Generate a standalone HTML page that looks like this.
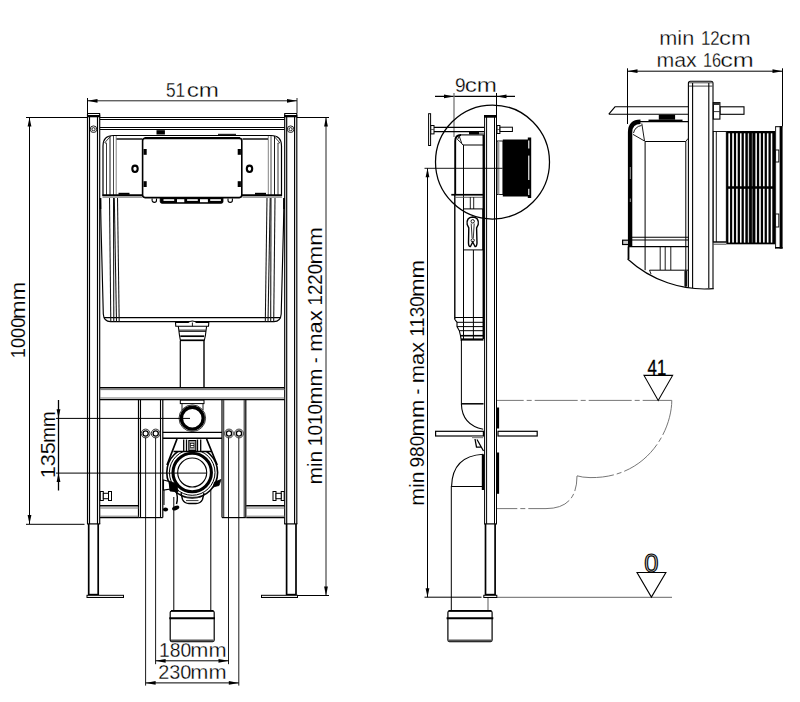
<!DOCTYPE html>
<html lang="en">
<head>
<meta charset="utf-8">
<title>Installation dimensions</title>
<style>
html,body{margin:0;padding:0;background:#fff;}
body{width:800px;height:702px;overflow:hidden;}
svg{display:block;}
svg text{font-family:"Liberation Sans",sans-serif;fill:#000;}
</style>
</head>
<body>
<svg width="800" height="702" viewBox="0 0 800 702" role="img" aria-label="Installation dimensions drawing">
<rect x="0" y="0" width="800" height="702" fill="#ffffff"/>
<g id="front">
<line x1="87.5" y1="100.8" x2="297" y2="100.8" stroke="#222" stroke-width="1"/>
<line x1="87.5" y1="98" x2="87.5" y2="113" stroke="#000" stroke-width="1"/>
<line x1="297" y1="98" x2="297" y2="113" stroke="#222" stroke-width="1"/>
<polygon points="87.5,100.8 97.5,98.9 97.5,102.7" fill="#000"/>
<polygon points="297,100.8 287,98.9 287,102.7" fill="#000"/>
<text y="96.75" font-size="20" stroke="#fff" stroke-width="0.3"><tspan x="166.0" textLength="19.2" lengthAdjust="spacingAndGlyphs">51</tspan><tspan x="186.75" textLength="32.26" lengthAdjust="spacingAndGlyphs">cm</tspan></text>
<line x1="29.5" y1="117.5" x2="29.5" y2="524" stroke="#000" stroke-width="1"/>
<line x1="26" y1="117.5" x2="87" y2="117.5" stroke="#000" stroke-width="1"/>
<line x1="26" y1="524.3" x2="84.5" y2="524.3" stroke="#000" stroke-width="1"/>
<polygon points="29.5,117.5 27.6,126.5 31.4,126.5" fill="#000"/>
<polygon points="29.5,524 27.6,515 31.4,515" fill="#000"/>
<text y="358.15" font-size="20.6" stroke="#fff" stroke-width="0.12" transform="rotate(-90 25.3 358.15)"><tspan x="25.3" textLength="40.43" lengthAdjust="spacingAndGlyphs">1000</tspan><tspan x="64.15" textLength="37.65" lengthAdjust="spacingAndGlyphs">mm</tspan></text>
<line x1="326" y1="117.5" x2="326" y2="595.5" stroke="#222" stroke-width="1"/>
<line x1="297" y1="117.5" x2="329" y2="117.5" stroke="#000" stroke-width="1"/>
<line x1="298" y1="595.5" x2="329" y2="595.5" stroke="#000" stroke-width="1"/>
<polygon points="326,117.5 324.1,126.5 327.9,126.5" fill="#000"/>
<polygon points="326,595.5 324.1,586.5 327.9,586.5" fill="#000"/>
<text y="484.55" font-size="20.6" stroke="#fff" stroke-width="0.12" transform="rotate(-90 322.4 484.55)"><tspan x="322.4" textLength="33.55" lengthAdjust="spacingAndGlyphs">min</tspan> <tspan x="360.8" textLength="42.23" lengthAdjust="spacingAndGlyphs">1010</tspan><tspan x="402.45" textLength="36.03" lengthAdjust="spacingAndGlyphs">mm</tspan> <tspan x="444.05" textLength="5.48" lengthAdjust="spacingAndGlyphs">-</tspan> <tspan x="455.3" textLength="41.29" lengthAdjust="spacingAndGlyphs">max</tspan> <tspan x="501.45" textLength="41.58" lengthAdjust="spacingAndGlyphs">1220</tspan><tspan x="542.45" textLength="37.32" lengthAdjust="spacingAndGlyphs">mm</tspan></text>
<line x1="87.5" y1="114" x2="87.5" y2="524" stroke="#000" stroke-width="1.15"/>
<line x1="89.5" y1="117" x2="89.5" y2="524" stroke="#000" stroke-width="1.15"/>
<line x1="97.5" y1="117" x2="97.5" y2="524" stroke="#000" stroke-width="1.15"/>
<line x1="99.7" y1="114" x2="99.7" y2="524" stroke="#000" stroke-width="1.15"/>
<line x1="87.0" y1="113.5" x2="100.2" y2="113.5" stroke="#000" stroke-width="1"/>
<rect x="87.0" y="115" width="13.200000000000003" height="2.3" fill="#000"/>
<line x1="87.0" y1="523.9" x2="100.2" y2="523.9" stroke="#000" stroke-width="1.2"/>
<line x1="284.7" y1="114" x2="284.7" y2="524" stroke="#000" stroke-width="1.15"/>
<line x1="286.7" y1="117" x2="286.7" y2="524" stroke="#000" stroke-width="1.15"/>
<line x1="294.6" y1="117" x2="294.6" y2="524" stroke="#000" stroke-width="1.15"/>
<line x1="296.8" y1="114" x2="296.8" y2="524" stroke="#000" stroke-width="1.15"/>
<line x1="284.2" y1="113.5" x2="297.3" y2="113.5" stroke="#000" stroke-width="1"/>
<rect x="284.2" y="115" width="13.100000000000023" height="2.3" fill="#000"/>
<line x1="284.2" y1="523.9" x2="297.3" y2="523.9" stroke="#000" stroke-width="1.2"/>
<line x1="88.7" y1="524" x2="88.7" y2="595" stroke="#000" stroke-width="1.7"/>
<line x1="98.2" y1="524" x2="98.2" y2="595" stroke="#000" stroke-width="1.7"/>
<line x1="88.7" y1="594.4" x2="98.2" y2="594.4" stroke="#000" stroke-width="1.2"/>
<line x1="286.6" y1="524" x2="286.6" y2="595" stroke="#000" stroke-width="1.7"/>
<line x1="296" y1="524" x2="296" y2="595" stroke="#000" stroke-width="1.7"/>
<line x1="286.6" y1="594.4" x2="296" y2="594.4" stroke="#000" stroke-width="1.2"/>
<rect x="87" y="595.3" width="36.5" height="2.2" fill="#eee" stroke="#000" stroke-width="1"/>
<rect x="261.5" y="595.3" width="36" height="2.2" fill="#eee" stroke="#000" stroke-width="1"/>
<circle cx="93.5" cy="129.2" r="3.3" fill="none" stroke="#222" stroke-width="1"/>
<circle cx="93.5" cy="129.2" r="1.6" fill="none" stroke="#222" stroke-width="1"/>
<circle cx="290.6" cy="129.2" r="3.3" fill="none" stroke="#222" stroke-width="1"/>
<circle cx="290.6" cy="129.2" r="1.6" fill="none" stroke="#222" stroke-width="1"/>
<line x1="100" y1="117.5" x2="284.5" y2="117.5" stroke="#000" stroke-width="1"/>
<line x1="100" y1="119.5" x2="284.5" y2="119.5" stroke="#000" stroke-width="1"/>
<line x1="100" y1="127.5" x2="284.5" y2="127.5" stroke="#000" stroke-width="1"/>
<line x1="100" y1="129.5" x2="284.5" y2="129.5" stroke="#000" stroke-width="1"/>
<rect x="156.5" y="130.2" width="8.4" height="4.3" fill="#000" stroke="#000" stroke-width="0"/>
<line x1="100" y1="387.7" x2="284.5" y2="387.7" stroke="#000" stroke-width="1.5"/>
<line x1="100" y1="389.6" x2="284.5" y2="389.6" stroke="#777" stroke-width="1"/>
<line x1="100" y1="398" x2="284.5" y2="398" stroke="#777" stroke-width="1"/>
<line x1="100" y1="399.6" x2="284.5" y2="399.6" stroke="#000" stroke-width="1.2"/>
<path d="M103,196 L103,146 Q103,135.5 113.5,135.5 L271,135.5 Q281.5,135.5 281.5,146 L281.5,196" fill="none" stroke="#000" stroke-width="1.2"/>
<path d="M104.5,143 L110.5,136.2 M106.5,143.5 L106.5,196 M105,143 L107,143.3" fill="none" stroke="#222" stroke-width="0.9"/>
<path d="M280,143 L274,136.2 M278,143.5 L278,196 M279.5,143 L277.5,143.3" fill="none" stroke="#222" stroke-width="0.9"/>
<line x1="110" y1="136" x2="110" y2="196" stroke="#000" stroke-width="0.9"/>
<line x1="274.5" y1="136" x2="274.5" y2="196" stroke="#000" stroke-width="0.9"/>
<line x1="113.5" y1="136" x2="113.5" y2="196" stroke="#333" stroke-width="0.9"/>
<line x1="271.0" y1="136" x2="271.0" y2="196" stroke="#333" stroke-width="0.9"/>
<line x1="116.2" y1="136" x2="116.2" y2="196" stroke="#777" stroke-width="0.9"/>
<line x1="268.3" y1="136" x2="268.3" y2="196" stroke="#777" stroke-width="0.9"/>
<line x1="116.5" y1="139" x2="142" y2="139" stroke="#000" stroke-width="1.4"/>
<line x1="242.5" y1="139" x2="268" y2="139" stroke="#000" stroke-width="1.4"/>
<line x1="218" y1="134.4" x2="236" y2="134.4" stroke="#222" stroke-width="1.2"/>
<line x1="102.5" y1="195.2" x2="142.5" y2="195.2" stroke="#000" stroke-width="1.9"/>
<line x1="102.5" y1="197.2" x2="142" y2="197.2" stroke="#666" stroke-width="0.9"/>
<line x1="242" y1="195.2" x2="282" y2="195.2" stroke="#000" stroke-width="1.9"/>
<line x1="242.5" y1="197.2" x2="282" y2="197.2" stroke="#666" stroke-width="0.9"/>
<rect x="118.5" y="192.8" width="11" height="2" fill="#000" stroke="#000" stroke-width="0"/>
<rect x="255" y="192.8" width="11" height="2" fill="#000" stroke="#000" stroke-width="0"/>
<rect x="142.6" y="138.3" width="99.2" height="59.3" rx="2.5" fill="#fff" stroke="#000" stroke-width="1.6"/>
<line x1="144.5" y1="138.2" x2="240" y2="138.2" stroke="#000" stroke-width="2.2"/>
<rect x="143.5" y="149" width="3.2" height="5.8" fill="#000" stroke="#000" stroke-width="0"/>
<rect x="237.7" y="149" width="3.2" height="5.8" fill="#000" stroke="#000" stroke-width="0"/>
<rect x="143.5" y="181.2" width="3.2" height="5.8" fill="#000" stroke="#000" stroke-width="0"/>
<rect x="237.7" y="181.2" width="3.2" height="5.8" fill="#000" stroke="#000" stroke-width="0"/>
<ellipse cx="135" cy="168.8" rx="2.7" ry="3.2" fill="#fff" stroke="#000" stroke-width="2.1"/>
<ellipse cx="249.5" cy="168.8" rx="2.7" ry="3.2" fill="#fff" stroke="#000" stroke-width="2.1"/>
<path d="M160.1,198 L160.1,201.4 Q160.1,203.4 162.1,203.4 L221.1,203.4 Q223.1,203.4 223.1,201.4 L223.1,198 Z" fill="#000" stroke="#000" stroke-width="0.6"/>
<rect x="163.5" y="199.2" width="10.7" height="1.7" fill="#fff"/>
<rect x="177" y="199.2" width="7.3" height="3" fill="#fff"/>
<rect x="187.1" y="199.2" width="10.7" height="1.7" fill="#fff"/>
<rect x="200" y="199.2" width="7.9" height="3" fill="#fff"/>
<rect x="210.2" y="199.2" width="10.7" height="1.7" fill="#fff"/>
<path d="M152.1,198.5 L152.1,200.2 A2.2,2.2 0 0 0 156.5,200.2 L156.5,198.5" fill="none" stroke="#000" stroke-width="1.1"/>
<path d="M228.0,198.5 L228.0,200.2 A2.2,2.2 0 0 0 232.4,200.2 L232.4,198.5" fill="none" stroke="#000" stroke-width="1.1"/>
<path d="M100.5,198 L101,225 L103.3,314 Q103.8,321.6 110.5,321.6 L274,321.6 Q280.7,321.6 281.2,314 L283.5,225 L284,198" fill="none" stroke="#000" stroke-width="1.15"/>
<line x1="100.5" y1="198" x2="100.5" y2="209" stroke="#000" stroke-width="1.6"/>
<line x1="284" y1="198" x2="284" y2="209" stroke="#000" stroke-width="1.6"/>
<line x1="104" y1="317.6" x2="280.5" y2="317.6" stroke="#000" stroke-width="1.1"/>
<line x1="109.5" y1="198" x2="110.8" y2="322" stroke="#111" stroke-width="1.05"/>
<line x1="275.0" y1="198" x2="273.7" y2="322" stroke="#111" stroke-width="1.05"/>
<line x1="113.5" y1="198" x2="113.8" y2="322" stroke="#111" stroke-width="1.05"/>
<line x1="271.0" y1="198" x2="270.7" y2="322" stroke="#111" stroke-width="1.05"/>
<line x1="114.3" y1="198" x2="116.5" y2="322" stroke="#111" stroke-width="1.05"/>
<line x1="270.2" y1="198" x2="268.0" y2="322" stroke="#111" stroke-width="1.05"/>
<line x1="117.5" y1="198" x2="119.2" y2="322" stroke="#111" stroke-width="1.05"/>
<line x1="267.0" y1="198" x2="265.3" y2="322" stroke="#111" stroke-width="1.05"/>
<path d="M175.5,322.5 L188,322.5 Q190,321 192.3,321 Q194.6,321 196.6,322.5 L208.8,322.5 L208.5,326.3 L175.8,326.3 Z" fill="#fff" stroke="#000" stroke-width="1.1"/>
<line x1="192.4" y1="322.5" x2="192.4" y2="326.3" stroke="#000" stroke-width="0.9"/>
<path d="M178.3,326.3 L178.8,330 L179.5,335.5 L180.5,341 M206.6,326.3 L206.1,330 L205.4,335.5 L204.2,341" fill="none" stroke="#000" stroke-width="1.1"/>
<line x1="178.8" y1="330" x2="206.1" y2="330" stroke="#444" stroke-width="0.9"/>
<line x1="179" y1="331.2" x2="206" y2="331.2" stroke="#000" stroke-width="1.2"/>
<line x1="180.3" y1="336.2" x2="204.2" y2="336.2" stroke="#000" stroke-width="1.7"/>
<line x1="180.3" y1="340.3" x2="204.2" y2="340.3" stroke="#000" stroke-width="1.7"/>
<line x1="180.3" y1="341" x2="180.3" y2="387.5" stroke="#000" stroke-width="1.2"/>
<line x1="204" y1="341" x2="204" y2="387.5" stroke="#000" stroke-width="1.4"/>
<line x1="138.5" y1="400" x2="138.5" y2="517.6" stroke="#000" stroke-width="1.2"/>
<line x1="140.5" y1="400" x2="140.5" y2="517.6" stroke="#000" stroke-width="1.1"/>
<line x1="160.5" y1="400" x2="160.5" y2="517.6" stroke="#000" stroke-width="1.1"/>
<line x1="162.8" y1="400" x2="162.8" y2="517.6" stroke="#000" stroke-width="1.2"/>
<line x1="138.5" y1="517.6" x2="162.8" y2="517.6" stroke="#000" stroke-width="1.2"/>
<line x1="222" y1="400" x2="222" y2="517.6" stroke="#000" stroke-width="1.2"/>
<line x1="223.7" y1="400" x2="223.7" y2="517.6" stroke="#333" stroke-width="1.1"/>
<line x1="244.2" y1="400" x2="244.2" y2="517.6" stroke="#333" stroke-width="1.1"/>
<line x1="245.8" y1="400" x2="245.8" y2="517.6" stroke="#000" stroke-width="1.2"/>
<line x1="222" y1="517.6" x2="245.8" y2="517.6" stroke="#000" stroke-width="1.2"/>
<circle cx="145.6" cy="433.5" r="4.4" fill="none" stroke="#222" stroke-width="0.9"/>
<circle cx="145.6" cy="433.5" r="2.6" fill="none" stroke="#000" stroke-width="1.3"/>
<circle cx="155.7" cy="433.5" r="4.4" fill="none" stroke="#222" stroke-width="0.9"/>
<circle cx="155.7" cy="433.5" r="2.6" fill="none" stroke="#000" stroke-width="1.3"/>
<circle cx="229" cy="433.5" r="4.4" fill="none" stroke="#222" stroke-width="0.9"/>
<circle cx="229" cy="433.5" r="2.6" fill="none" stroke="#000" stroke-width="1.3"/>
<circle cx="239" cy="433.5" r="4.4" fill="none" stroke="#222" stroke-width="0.9"/>
<circle cx="239" cy="433.5" r="2.6" fill="none" stroke="#000" stroke-width="1.3"/>
<line x1="100" y1="505.8" x2="138.5" y2="505.8" stroke="#000" stroke-width="1.5"/>
<line x1="100" y1="508" x2="138.5" y2="508" stroke="#777" stroke-width="1"/>
<line x1="100" y1="516.2" x2="138.5" y2="516.2" stroke="#777" stroke-width="1"/>
<line x1="100" y1="517.7" x2="138.5" y2="517.7" stroke="#000" stroke-width="1.2"/>
<line x1="246.2" y1="505.8" x2="284.5" y2="505.8" stroke="#000" stroke-width="1.5"/>
<line x1="246.2" y1="508" x2="284.5" y2="508" stroke="#777" stroke-width="1"/>
<line x1="246.2" y1="516.2" x2="284.5" y2="516.2" stroke="#777" stroke-width="1"/>
<line x1="246.2" y1="517.7" x2="284.5" y2="517.7" stroke="#000" stroke-width="1.2"/>
<rect x="100.3" y="491.5" width="3" height="9" fill="#fff" stroke="#000" stroke-width="1"/>
<rect x="108.5" y="491.5" width="3" height="9" fill="#fff" stroke="#000" stroke-width="1"/>
<rect x="103.3" y="493.3" width="5.2" height="5.4" fill="#fff" stroke="#000" stroke-width="1"/>
<rect x="281.2" y="491.5" width="3" height="9" fill="#fff" stroke="#000" stroke-width="1"/>
<rect x="273.0" y="491.5" width="3" height="9" fill="#fff" stroke="#000" stroke-width="1"/>
<rect x="276.0" y="493.3" width="5.2" height="5.4" fill="#fff" stroke="#000" stroke-width="1"/>
<rect x="180.3" y="400.2" width="23.7" height="3.4" fill="#fff" stroke="#000" stroke-width="1"/>
<line x1="182" y1="403.6" x2="182" y2="410" stroke="#000" stroke-width="0.9"/>
<line x1="203" y1="403.6" x2="203" y2="410" stroke="#000" stroke-width="0.9"/>
<circle cx="192.3" cy="418.2" r="13.3" fill="none" stroke="#222" stroke-width="0.9"/>
<circle cx="192.3" cy="418.2" r="10.9" fill="none" stroke="#000" stroke-width="3.4"/>
<line x1="162.8" y1="432.4" x2="222" y2="432.4" stroke="#000" stroke-width="1.1"/>
<line x1="162.8" y1="438.3" x2="222" y2="438.3" stroke="#000" stroke-width="1.6"/>
<path d="M177,439 L167,465 M206.6,439 L217.2,465" fill="none" stroke="#000" stroke-width="1.7"/>
<line x1="173.5" y1="451.6" x2="211" y2="451.6" stroke="#000" stroke-width="1.5"/>
<line x1="183.7" y1="439.5" x2="183.7" y2="451" stroke="#000" stroke-width="1.3"/>
<line x1="186.5" y1="439.5" x2="186.5" y2="451" stroke="#000" stroke-width="1.3"/>
<line x1="197.5" y1="439.5" x2="197.5" y2="451" stroke="#000" stroke-width="1.3"/>
<line x1="200.7" y1="439.5" x2="200.7" y2="451" stroke="#000" stroke-width="1.3"/>
<rect x="188.8" y="440.5" width="7" height="10" fill="#999" stroke="#000" stroke-width="1"/>
<rect x="190.5" y="443.5" width="3.4" height="4" fill="#fff" stroke="#000" stroke-width="0.6"/>
<line x1="190.5" y1="445.5" x2="194" y2="445.5" stroke="#000" stroke-width="0.8"/>
<clipPath id="oc"><rect x="160" y="452" width="66" height="60"/></clipPath>
<g clip-path="url(#oc)">
<circle cx="192.2" cy="472.5" r="25.4" fill="none" stroke="#000" stroke-width="1.6"/>
<circle cx="192.2" cy="472.5" r="22.8" fill="none" stroke="#000" stroke-width="1"/>
</g>
<circle cx="192.2" cy="472.5" r="19.2" fill="none" stroke="#000" stroke-width="3.1"/>
<circle cx="192.2" cy="472.5" r="14.5" fill="none" stroke="#000" stroke-width="1.1"/>
<path d="M181,493 L182.5,499.5 Q184.5,503.5 189,503.5 L196,503.5 Q200.5,503.5 202.5,499.5 L204,493" fill="none" stroke="#000" stroke-width="1.4"/>
<path d="M184.5,497.3 L200.5,497.3 M186,500.6 L198.5,500.6" fill="none" stroke="#333" stroke-width="1"/>
<path d="M163.5,480 L169,481.5 L170.5,489 L163.5,490 Z" fill="#fff" stroke="#000" stroke-width="1.1"/>
<path d="M169,481 L177,484 L178,492 L170,491 Z" fill="#000" stroke="#000" stroke-width="0.8"/>
<path d="M221,479.5 L214.5,482 L213,487 L219,485.5 Z" fill="#000" stroke="#000" stroke-width="0.8"/>
<path d="M176,491.5 Q178.5,497 176.5,504" fill="none" stroke="#000" stroke-width="1.4"/>
<path d="M164,490 L164,505" fill="none" stroke="#000" stroke-width="1"/>
<ellipse cx="165.5" cy="509.5" rx="2.6" ry="2" fill="#000"/>
<ellipse cx="175.7" cy="508" rx="3.8" ry="2.1" fill="#000" transform="rotate(-20 175.7 508)"/>
<line x1="56" y1="418.4" x2="190" y2="418.4" stroke="#000" stroke-width="1"/>
<line x1="56" y1="473.1" x2="206.5" y2="473.1" stroke="#000" stroke-width="1"/>
<line x1="58.5" y1="400" x2="58.5" y2="490.5" stroke="#000" stroke-width="1.3"/>
<polygon points="58.5,418.2 56.6,409.2 60.4,409.2" fill="#000"/>
<polygon points="58.5,473 56.6,482 60.4,482" fill="#000"/>
<text y="478.25" font-size="20.6" stroke="#fff" stroke-width="0.12" transform="rotate(-90 55.3 478.25)"><tspan x="55.3" textLength="36.2" lengthAdjust="spacingAndGlyphs">135</tspan><tspan x="90.85" textLength="31.24" lengthAdjust="spacingAndGlyphs">mm</tspan></text>
<line x1="173.8" y1="497" x2="173.8" y2="610" stroke="#000" stroke-width="1"/>
<line x1="210.8" y1="490" x2="210.8" y2="610" stroke="#000" stroke-width="1"/>
<line x1="145.6" y1="437.5" x2="145.6" y2="685.6" stroke="#000" stroke-width="0.9"/>
<line x1="155.6" y1="437.5" x2="155.6" y2="664.2" stroke="#000" stroke-width="0.9"/>
<line x1="228.5" y1="437.5" x2="228.5" y2="664.2" stroke="#000" stroke-width="0.9"/>
<line x1="238.8" y1="437.5" x2="238.8" y2="685.6" stroke="#000" stroke-width="0.9"/>
<rect x="170.2" y="611" width="44" height="30.6" rx="1.5" fill="none" stroke="#000" stroke-width="1.2"/>
<line x1="169.3" y1="618.3" x2="215" y2="618.3" stroke="#000" stroke-width="1.9"/>
<line x1="171" y1="610.9" x2="213.5" y2="610.9" stroke="#000" stroke-width="1.9"/>
<line x1="171" y1="640.5" x2="213.5" y2="640.5" stroke="#555" stroke-width="1.8"/>
<line x1="155.6" y1="660.8" x2="228.5" y2="660.8" stroke="#000" stroke-width="1"/>
<polygon points="155.6,660.8 165.6,658.9 165.6,662.7" fill="#000"/>
<polygon points="228.5,660.8 218.5,658.9 218.5,662.7" fill="#000"/>
<line x1="145.6" y1="682.9" x2="238.8" y2="682.9" stroke="#000" stroke-width="1"/>
<polygon points="145.6,682.9 155.6,681.0 155.6,684.8" fill="#000"/>
<polygon points="238.8,682.9 228.8,681.0 228.8,684.8" fill="#000"/>
<text y="656.5" font-size="20" stroke="#fff" stroke-width="0.3"><tspan x="159.0" textLength="32.21" lengthAdjust="spacingAndGlyphs">180</tspan><tspan x="190.25" textLength="36.27" lengthAdjust="spacingAndGlyphs">mm</tspan></text>
<text y="678.75" font-size="20" stroke="#fff" stroke-width="0.3"><tspan x="158.25" textLength="33.14" lengthAdjust="spacingAndGlyphs">230</tspan><tspan x="190.25" textLength="36.27" lengthAdjust="spacingAndGlyphs">mm</tspan></text>
</g>
<g id="side">
<line x1="435" y1="96.4" x2="515" y2="96.4" stroke="#000" stroke-width="1.1"/>
<polygon points="454,96.4 444,94.5 444,98.3" fill="#000"/>
<polygon points="496.5,96.4 506.5,94.5 506.5,98.3" fill="#000"/>
<line x1="454" y1="93" x2="454" y2="137" stroke="#777" stroke-width="1.3"/>
<line x1="496.5" y1="93" x2="496.5" y2="115" stroke="#000" stroke-width="1"/>
<text y="91.75" font-size="20" stroke="#fff" stroke-width="0.3"><tspan x="455.0" textLength="10.63" lengthAdjust="spacingAndGlyphs">9</tspan><tspan x="464.75" textLength="32.26" lengthAdjust="spacingAndGlyphs">cm</tspan></text>
<circle cx="492.5" cy="162" r="57" fill="none" stroke="#000" stroke-width="1.25"/>
<line x1="427.5" y1="168.3" x2="427.5" y2="597.2" stroke="#000" stroke-width="1"/>
<polygon points="427.5,168.3 425.6,177.3 429.4,177.3" fill="#000"/>
<polygon points="427.5,597.2 425.6,588.2 429.4,588.2" fill="#000"/>
<line x1="424.5" y1="597.2" x2="481.5" y2="597.2" stroke="#000" stroke-width="1"/>
<text y="505.65" font-size="20.6" stroke="#fff" stroke-width="0.12" transform="rotate(-90 424.3 505.65)"><tspan x="424.3" textLength="34.16" lengthAdjust="spacingAndGlyphs">min</tspan> <tspan x="462.45" textLength="31.84" lengthAdjust="spacingAndGlyphs">980</tspan><tspan x="493.5" textLength="36.77" lengthAdjust="spacingAndGlyphs">mm</tspan> <tspan x="535.25" textLength="6.23" lengthAdjust="spacingAndGlyphs">-</tspan> <tspan x="546.6" textLength="41.45" lengthAdjust="spacingAndGlyphs">max</tspan> <tspan x="593.15" textLength="40.69" lengthAdjust="spacingAndGlyphs">1130</tspan><tspan x="633.0" textLength="36.91" lengthAdjust="spacingAndGlyphs">mm</tspan></text>
<line x1="497" y1="597.3" x2="672" y2="597.3" stroke="#666" stroke-width="1"/>
<path d="M496.3,400.4 L671.8,400.4" fill="none" stroke="#666" stroke-width="0.9" stroke-dasharray="43 3 5 3" stroke-dashoffset="15.6"/>
<path d="M671.8,400.4 C671.5,432 646,478.5 590,477.6 Q582,477.4 577,475.8" fill="none" stroke="#666" stroke-width="0.9" stroke-dasharray="43 3 5 3" stroke-dashoffset="7"/>
<path d="M496.3,508.6 L546,508.6 Q577,508.6 577,476" fill="none" stroke="#666" stroke-width="0.9" stroke-dasharray="43 3 5 3" stroke-dashoffset="22"/>
<path d="M644,375.4 L672.6,375.4 L658.2,400.4 Z" fill="none" stroke="#000" stroke-width="1.1"/>
<text x="647.6" y="375" font-size="22.7" textLength="18.6" lengthAdjust="spacingAndGlyphs" stroke="#000" stroke-width="0.35">41</text>
<path d="M637,572.5 L665.9,572.5 L651.4,597.1 Z" fill="none" stroke="#000" stroke-width="1.1"/>
<text x="644.3" y="571.6" font-size="25.6" textLength="14.2" lengthAdjust="spacingAndGlyphs" stroke="#000" stroke-width="1.1" style="fill:#c8c8c8">0</text>
<rect x="428.6" y="113.7" width="2" height="31.8" fill="#fff" stroke="#000" stroke-width="1"/>
<rect x="430.8" y="125.5" width="3.2" height="8.4" fill="#fff" stroke="#000" stroke-width="1"/>
<line x1="430.8" y1="129.5" x2="434" y2="129.5" stroke="#444" stroke-width="0.8"/>
<line x1="434" y1="127.4" x2="484" y2="127.4" stroke="#000" stroke-width="1.1"/>
<line x1="434" y1="131.6" x2="484" y2="131.6" stroke="#000" stroke-width="1.1"/>
<rect x="497" y="125.5" width="2.9" height="8" fill="#fff" stroke="#000" stroke-width="1"/>
<line x1="497" y1="129.5" x2="500" y2="129.5" stroke="#444" stroke-width="0.8"/>
<rect x="500" y="127.2" width="12.4" height="4.3" fill="#fff" stroke="#000" stroke-width="1"/>
<rect x="469" y="132" width="10" height="2.4" fill="#000" stroke="#000" stroke-width="0"/>
<line x1="479" y1="133.4" x2="484" y2="133.4" stroke="#555" stroke-width="0.8"/>
<path d="M455.2,195 L455.2,141 Q455.2,135.2 461,135" fill="none" stroke="#000" stroke-width="1.9"/>
<line x1="460.5" y1="134.9" x2="484" y2="134.9" stroke="#000" stroke-width="1.1"/>
<path d="M457.5,139.5 L459.3,136.3 L461.8,143.5 Z" fill="none" stroke="#000" stroke-width="0.9"/>
<path d="M461.8,143.5 L463,145 L484,145" fill="none" stroke="#000" stroke-width="1"/>
<line x1="463.5" y1="145" x2="463.5" y2="339" stroke="#000" stroke-width="1"/>
<line x1="454.8" y1="195" x2="454.8" y2="319" stroke="#000" stroke-width="1.4"/>
<rect x="451.3" y="193.9" width="32" height="1.7" fill="#000" stroke="#000" stroke-width="0"/>
<line x1="454.5" y1="197.3" x2="483.5" y2="197.3" stroke="#555" stroke-width="0.9"/>
<line x1="470.3" y1="197" x2="470.3" y2="209" stroke="#222" stroke-width="1"/>
<line x1="473.7" y1="197" x2="473.7" y2="209" stroke="#222" stroke-width="1"/>
<rect x="463.5" y="208.9" width="19.3" height="41" fill="none" stroke="#000" stroke-width="1"/>
<path d="M467.2,224.5 Q466.2,217.3 472.6,217 Q479.2,217.3 478.2,224.5 L476.6,228 L477,243 Q476.7,247 475,246.5 L472.7,242 L470.5,246.5 Q468.6,247 468.5,243 L468.8,228 Z" fill="none" stroke="#000" stroke-width="1.4"/>
<circle cx="472.7" cy="221.3" r="1.7" fill="none" stroke="#000" stroke-width="0.9"/>
<circle cx="472.7" cy="240.3" r="1.6" fill="none" stroke="#000" stroke-width="0.9"/>
<path d="M471.2,223.5 L472.1,238 M474.2,223.5 L473.3,238" fill="none" stroke="#000" stroke-width="0.8"/>
<line x1="473.4" y1="250" x2="473.4" y2="339" stroke="#000" stroke-width="1"/>
<line x1="483.5" y1="135" x2="483.5" y2="339" stroke="#000" stroke-width="1.9"/>
<path d="M454.5,319 L457,322.3 L457,326.6 L459.3,330.7 L460.5,335.7 L461.3,341" fill="none" stroke="#000" stroke-width="1.1"/>
<line x1="455" y1="317.5" x2="483.5" y2="317.5" stroke="#000" stroke-width="1"/>
<line x1="457" y1="322.3" x2="483.5" y2="322.3" stroke="#000" stroke-width="1"/>
<line x1="457" y1="326.6" x2="483.5" y2="326.6" stroke="#000" stroke-width="1"/>
<line x1="459.3" y1="330.7" x2="483.5" y2="330.7" stroke="#000" stroke-width="1"/>
<line x1="460.5" y1="335.7" x2="483.5" y2="335.7" stroke="#000" stroke-width="1.6"/>
<line x1="461" y1="339.5" x2="483.5" y2="339.5" stroke="#000" stroke-width="2.2"/>
<line x1="461.4" y1="340" x2="461.4" y2="404" stroke="#000" stroke-width="1"/>
<line x1="461.4" y1="403.8" x2="483.5" y2="403.8" stroke="#000" stroke-width="1.5"/>
<path d="M461.4,404 Q462,425 483.2,429.2" fill="none" stroke="#000" stroke-width="1.1"/>
<rect x="484" y="115" width="13" height="2.7" fill="#000" stroke="#000" stroke-width="0"/>
<line x1="484.6" y1="116" x2="484.6" y2="523.9" stroke="#000" stroke-width="1"/>
<line x1="486.6" y1="116" x2="486.6" y2="523.9" stroke="#000" stroke-width="1"/>
<line x1="494.5" y1="116" x2="494.5" y2="523.9" stroke="#000" stroke-width="1"/>
<line x1="496.5" y1="116" x2="496.5" y2="523.9" stroke="#000" stroke-width="1"/>
<line x1="484" y1="523.9" x2="497" y2="523.9" stroke="#000" stroke-width="1.2"/>
<line x1="485.5" y1="524" x2="485.5" y2="595" stroke="#000" stroke-width="1.7"/>
<line x1="495.1" y1="524" x2="495.1" y2="595" stroke="#000" stroke-width="1.7"/>
<line x1="485.5" y1="594.4" x2="495.1" y2="594.4" stroke="#000" stroke-width="1.2"/>
<rect x="483.8" y="595.3" width="13" height="2.2" fill="#eee" stroke="#000" stroke-width="1"/>
<rect x="497" y="141" width="6" height="53.5" fill="#fff" stroke="#000" stroke-width="0.9"/>
<line x1="498.7" y1="141" x2="498.7" y2="194.5" stroke="#999" stroke-width="1.4"/>
<rect x="502.8" y="139.5" width="25.4" height="57" fill="#000" stroke="#000" stroke-width="0"/>
<rect x="527.8" y="137.5" width="3.4" height="60.5" fill="#000" stroke="#000" stroke-width="0"/>
<rect x="528.1" y="140.5" width="1.3" height="8" fill="#ddd" stroke="#000" stroke-width="0"/>
<rect x="528.1" y="155.6" width="1.3" height="24.4" fill="#ddd" stroke="#000" stroke-width="0"/>
<rect x="528.1" y="188.8" width="1.3" height="6.2" fill="#ddd" stroke="#000" stroke-width="0"/>
<line x1="424.5" y1="168.3" x2="502.6" y2="168.3" stroke="#000" stroke-width="0.9"/>
<rect x="496.5" y="407.5" width="2.6" height="21" fill="#000" stroke="#000" stroke-width="0"/>
<rect x="496.5" y="452.5" width="2.6" height="41.3" fill="#000" stroke="#000" stroke-width="0"/>
<rect x="481.8" y="454.3" width="2.4" height="35.7" fill="#000" stroke="#000" stroke-width="0"/>
<rect x="435.6" y="431.3" width="47.8" height="4.7" fill="#fff" stroke="#000" stroke-width="1.2"/>
<rect x="498" y="431.3" width="39.2" height="4.7" fill="#fff" stroke="#000" stroke-width="1.2"/>
<rect x="472" y="436.2" width="11.2" height="2" fill="#888" stroke="#000" stroke-width="0"/>
<path d="M475,439 L476.5,447.2 L481,447.2 M477,439.5 L483.5,451" fill="none" stroke="#000" stroke-width="1.3"/>
<path d="M483.2,454.3 Q452.5,456 451.6,486" fill="none" stroke="#000" stroke-width="1.1"/>
<line x1="451.3" y1="486.5" x2="483" y2="486.5" stroke="#000" stroke-width="1"/>
<line x1="451.3" y1="486" x2="451.3" y2="610" stroke="#000" stroke-width="1"/>
<line x1="488" y1="598" x2="488" y2="610" stroke="#777" stroke-width="1.2"/>
<rect x="447.9" y="611" width="44.2" height="30.6" rx="1.5" fill="none" stroke="#000" stroke-width="1.2"/>
<line x1="446.6" y1="618.3" x2="493.3" y2="618.3" stroke="#000" stroke-width="1.9"/>
<line x1="448.5" y1="610.9" x2="491.5" y2="610.9" stroke="#000" stroke-width="1.9"/>
<line x1="448.5" y1="640.5" x2="491.5" y2="640.5" stroke="#555" stroke-width="1.8"/>
</g>
<g id="detail">
<text y="44.5" font-size="19.4" stroke="#fff" stroke-width="0.3"><tspan x="659.25" textLength="34.95" lengthAdjust="spacingAndGlyphs">min</tspan> <tspan x="700.95" textLength="18.78" lengthAdjust="spacingAndGlyphs">12</tspan><tspan x="719.05" textLength="31.71" lengthAdjust="spacingAndGlyphs">cm</tspan></text>
<text y="66.5" font-size="19.4" stroke="#fff" stroke-width="0.3"><tspan x="656.5" textLength="40.27" lengthAdjust="spacingAndGlyphs">max</tspan> <tspan x="702.95" textLength="18.12" lengthAdjust="spacingAndGlyphs">16</tspan><tspan x="720.25" textLength="33.55" lengthAdjust="spacingAndGlyphs">cm</tspan></text>
<line x1="627.5" y1="71.2" x2="782.5" y2="71.2" stroke="#000" stroke-width="1"/>
<polygon points="627.5,71.2 637.5,69.3 637.5,73.1" fill="#000"/>
<polygon points="782.5,71.2 772.5,69.3 772.5,73.1" fill="#000"/>
<line x1="627.5" y1="68.3" x2="627.5" y2="124" stroke="#000" stroke-width="1"/>
<line x1="782.5" y1="68.3" x2="782.5" y2="126" stroke="#000" stroke-width="1"/>
<path d="M608.8,114.2 L615,106.8 L688,106.8 M608.8,114.2 L688,114.2" fill="none" stroke="#000" stroke-width="1.1"/>
<rect x="720" y="106.8" width="24" height="7.5" fill="#fff" stroke="#000" stroke-width="1.1"/>
<rect x="713.3" y="102.6" width="6.6" height="16.5" fill="#fff" stroke="#000" stroke-width="1.1"/>
<line x1="713.3" y1="111.6" x2="720" y2="111.6" stroke="#222" stroke-width="0.9"/>
<rect x="713.3" y="102.6" width="6.6" height="2.4" fill="#333" stroke="#000" stroke-width="0"/>
<rect x="658.8" y="114.7" width="16.3" height="5" fill="#000" stroke="#000" stroke-width="0"/>
<rect x="648.5" y="119.6" width="34" height="1.8" fill="#000" stroke="#000" stroke-width="0"/>
<path d="M630.1,246.5 L630.1,132 Q630.3,122 640.5,121.8" fill="none" stroke="#000" stroke-width="4.4"/>
<path d="M640,121.6 L688,121.6" fill="none" stroke="#000" stroke-width="1.2"/>
<path d="M633,134.4 L644.5,141 L641.8,123.5 M633.5,133 Q635,126.5 641.5,125.5" fill="none" stroke="#000" stroke-width="0.9"/>
<line x1="645.1" y1="141.3" x2="645.1" y2="270.2" stroke="#000" stroke-width="1"/>
<line x1="645.1" y1="141.5" x2="685.8" y2="141.5" stroke="#000" stroke-width="1.1"/>
<path d="M685.8,141.5 L688,138.5" fill="none" stroke="#000" stroke-width="0.9"/>
<line x1="685.8" y1="141.5" x2="685.8" y2="287" stroke="#000" stroke-width="1"/>
<line x1="630.3" y1="167" x2="630.3" y2="179" stroke="#999" stroke-width="1"/>
<line x1="630.3" y1="198.5" x2="630.3" y2="202" stroke="#999" stroke-width="1"/>
<path d="M688.4,287.5 L688.4,83.3 Q688.4,81.3 690.4,81.3 L711,81.3 Q713,81.3 713,83.3 L713,288" fill="none" stroke="#000" stroke-width="1.1"/>
<line x1="689" y1="82.8" x2="712.5" y2="82.8" stroke="#333" stroke-width="0.9"/>
<line x1="689" y1="86.1" x2="712.5" y2="86.1" stroke="#333" stroke-width="0.9"/>
<line x1="692.6" y1="83" x2="692.6" y2="288" stroke="#000" stroke-width="1.1"/>
<line x1="708.8" y1="83" x2="708.8" y2="288" stroke="#000" stroke-width="1.1"/>
<line x1="631.5" y1="237.3" x2="688.3" y2="237.3" stroke="#000" stroke-width="1.1"/>
<line x1="631.5" y1="240" x2="688.3" y2="240" stroke="#000" stroke-width="1.1"/>
<line x1="628" y1="246.6" x2="688.3" y2="246.6" stroke="#000" stroke-width="1.2"/>
<rect x="622.6" y="240.2" width="6" height="4.3" fill="#ccc" stroke="#000" stroke-width="1.2"/>
<line x1="628.5" y1="246.5" x2="628.5" y2="259" stroke="#000" stroke-width="1.8"/>
<path d="M627.6,259 A113.8,113.8 0 0 0 713.8,288.6" fill="none" stroke="#000" stroke-width="1.2"/>
<line x1="660.2" y1="247" x2="660.2" y2="270" stroke="#000" stroke-width="0.9"/>
<line x1="665.2" y1="247" x2="665.2" y2="270" stroke="#000" stroke-width="0.9"/>
<line x1="670.8" y1="247" x2="670.8" y2="270" stroke="#000" stroke-width="0.9"/>
<line x1="649.5" y1="270.2" x2="688" y2="270.2" stroke="#000" stroke-width="1"/>
<path d="M649.5,270.2 L651,274" fill="none" stroke="#000" stroke-width="0.9"/>
<rect x="684.4" y="271" width="2.8" height="15.4" fill="#111" stroke="#000" stroke-width="0"/>
<rect x="713.3" y="131.5" width="13" height="110.5" fill="#fff" stroke="#000" stroke-width="0.9"/>
<line x1="716.3" y1="131.5" x2="716.3" y2="242" stroke="#000" stroke-width="0.9"/>
<rect x="726.3" y="131" width="49" height="113.3" fill="#000" stroke="#000" stroke-width="0"/>
<line x1="729.2" y1="133.3" x2="729.2" y2="186.3" stroke="#fff" stroke-width="1.7"/>
<line x1="729.2" y1="188.8" x2="729.2" y2="242.6" stroke="#fff" stroke-width="1.7"/>
<line x1="733.0500000000001" y1="133.3" x2="733.0500000000001" y2="186.3" stroke="#fff" stroke-width="1.7"/>
<line x1="733.0500000000001" y1="188.8" x2="733.0500000000001" y2="242.6" stroke="#fff" stroke-width="1.7"/>
<line x1="736.9000000000001" y1="133.3" x2="736.9000000000001" y2="186.3" stroke="#fff" stroke-width="1.6"/>
<line x1="736.9000000000001" y1="188.8" x2="736.9000000000001" y2="242.6" stroke="#fff" stroke-width="1.6"/>
<line x1="740.75" y1="133.3" x2="740.75" y2="186.3" stroke="#fff" stroke-width="1.6"/>
<line x1="740.75" y1="188.8" x2="740.75" y2="242.6" stroke="#fff" stroke-width="1.6"/>
<line x1="744.6" y1="133.3" x2="744.6" y2="186.3" stroke="#fff" stroke-width="1.5"/>
<line x1="744.6" y1="188.8" x2="744.6" y2="242.6" stroke="#fff" stroke-width="1.5"/>
<line x1="748.45" y1="133.3" x2="748.45" y2="186.3" stroke="#ccc" stroke-width="1.3"/>
<line x1="748.45" y1="188.8" x2="748.45" y2="242.6" stroke="#ccc" stroke-width="1.3"/>
<line x1="752.3000000000001" y1="133.3" x2="752.3000000000001" y2="186.3" stroke="#666" stroke-width="1.1"/>
<line x1="752.3000000000001" y1="188.8" x2="752.3000000000001" y2="242.6" stroke="#666" stroke-width="1.1"/>
<line x1="756.1500000000001" y1="133.3" x2="756.1500000000001" y2="186.3" stroke="#fff" stroke-width="1.5"/>
<line x1="756.1500000000001" y1="188.8" x2="756.1500000000001" y2="242.6" stroke="#fff" stroke-width="1.5"/>
<line x1="760.0" y1="133.3" x2="760.0" y2="186.3" stroke="#fff" stroke-width="1.6"/>
<line x1="760.0" y1="188.8" x2="760.0" y2="242.6" stroke="#fff" stroke-width="1.6"/>
<line x1="763.85" y1="133.3" x2="763.85" y2="186.3" stroke="#fff" stroke-width="1.6"/>
<line x1="763.85" y1="188.8" x2="763.85" y2="242.6" stroke="#fff" stroke-width="1.6"/>
<line x1="767.7" y1="133.3" x2="767.7" y2="186.3" stroke="#fff" stroke-width="1.6"/>
<line x1="767.7" y1="188.8" x2="767.7" y2="242.6" stroke="#fff" stroke-width="1.6"/>
<line x1="771.5500000000001" y1="133.3" x2="771.5500000000001" y2="186.3" stroke="#fff" stroke-width="1.5"/>
<line x1="771.5500000000001" y1="188.8" x2="771.5500000000001" y2="242.6" stroke="#fff" stroke-width="1.5"/>
<rect x="775.2" y="126.5" width="7.4" height="122" fill="#fff" stroke="#000" stroke-width="0"/>
<line x1="775.2" y1="126.7" x2="782.6" y2="126.7" stroke="#000" stroke-width="1"/>
<line x1="775.6" y1="126.7" x2="775.6" y2="248.3" stroke="#000" stroke-width="0.9"/>
<line x1="781.1" y1="126.2" x2="781.1" y2="248.6" stroke="#000" stroke-width="3"/>
<rect x="775.6" y="150" width="3.2" height="12" fill="#fff" stroke="#000" stroke-width="0.9"/>
<rect x="775.6" y="214" width="3.2" height="13" fill="#fff" stroke="#000" stroke-width="0.9"/>
<line x1="713.3" y1="242" x2="726.3" y2="242" stroke="#000" stroke-width="1"/>
<line x1="713.3" y1="244.2" x2="726.3" y2="244.2" stroke="#333" stroke-width="0.9"/>
<line x1="775" y1="247.8" x2="782.6" y2="247.8" stroke="#000" stroke-width="1.6"/>
</g>
</svg>
</body>
</html>
